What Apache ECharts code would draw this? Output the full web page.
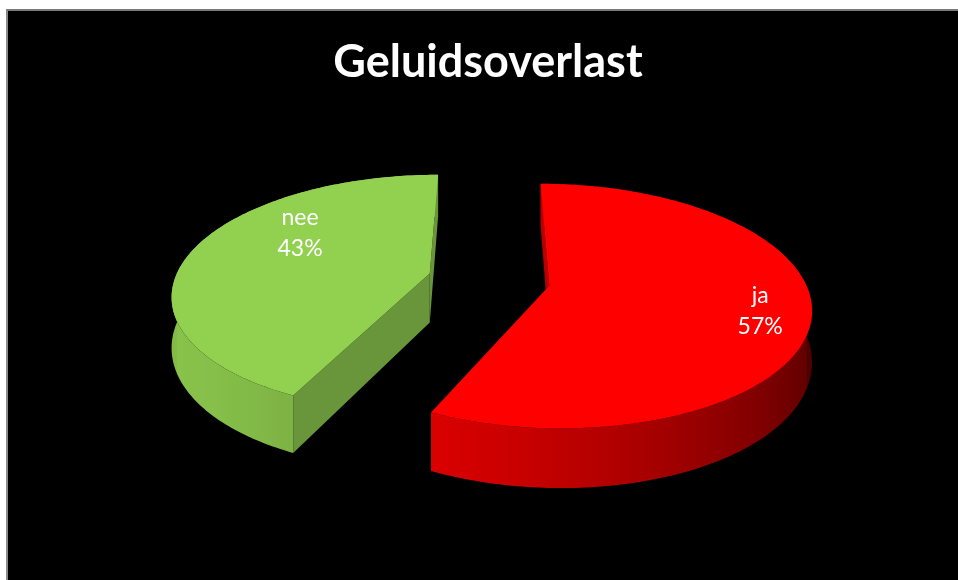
<!DOCTYPE html>
<html>
<head>
<meta charset="utf-8">
<script src="https://cdn.jsdelivr.net/npm/echarts@6/dist/echarts.min.js"></script>
<style>
  html, body { margin: 0; padding: 0; background: #ffffff; width: 958px; height: 580px; overflow: hidden; }
  #frame { position: absolute; left: 6px; top: 9px; width: 960px; height: 580px; border-top: 2px solid #7a7a7a; border-left: 2px solid #8a8a8a; background: #000; }
  #chart { width: 960px; height: 580px; }
</style>
</head>
<body>
<div id="frame"><div id="chart"></div></div>
<script>
const titleText = 'Geluidsoverlast';
const categories = ['ja', 'nee'];
const values = [57, 43];
const sliceColors = ['#ff0000', '#92d050'];

// 3D view parameters (rendering only)
const VIEW = { cx: 481, cy: 318, f: 1352, D: 5.3, sinT: 0.49, cosT: 0.872, H: 0.222, explode: 0.24 };
const LABEL_PLACE = [ { r: 0.81, dA: 2 }, { r: 0.67, dA: 21 } ];

function project(X, Y, Z) {
  const v = Y * VIEW.cosT - Z * VIEW.sinT;
  const d = VIEW.D - Z * VIEW.cosT;
  return [VIEW.cx + VIEW.f * X / d, VIEW.cy - VIEW.f * v / d];
}
function shade(hex, b) {
  const n = parseInt(hex.slice(1), 16);
  const r = Math.min(255, Math.round(((n >> 16) & 255) * b));
  const g = Math.min(255, Math.round(((n >> 8) & 255) * b));
  const bl = Math.min(255, Math.round((n & 255) * b));
  return 'rgb(' + r + ',' + g + ',' + bl + ')';
}
function light(theta) {
  const dot = -0.9 * Math.sin(theta) - 0.44 * Math.cos(theta);
  return 0.6 + 0.33 * dot;
}
function signedArea(pts) {
  let s = 0;
  for (let k = 0; k < pts.length; k++) {
    const a = pts[k], b = pts[(k + 1) % pts.length];
    s += a[0] * b[1] - b[0] * a[1];
  }
  return s / 2;
}
const total = values.reduce((a, b) => a + b, 0);

function renderItem(params, api) {
  const i = params.dataIndex;
  let a0 = 0;
  for (let j = 0; j < i; j++) a0 += values[j] / total * 2 * Math.PI;
  const a1 = a0 + api.value(0) / total * 2 * Math.PI;
  const mid = (a0 + a1) / 2;
  const ex = VIEW.explode * Math.sin(mid), ez = -VIEW.explode * Math.cos(mid);
  const H = VIEW.H;
  const col = sliceColors[i];
  const pt = (t, r, Y) => project(ex + r * Math.sin(t), Y, ez - r * Math.cos(t));
  const children = [];

  // outer wall: single polygon with horizontal gradient
  const n = Math.ceil((a1 - a0) / (Math.PI / 180));
  const topArc = [], botArc = [];
  for (let k = 0; k <= n; k++) {
    const t = a0 + (a1 - a0) * k / n;
    topArc.push(pt(t, 1, H));
    botArc.push(pt(t, 1, 0));
  }
  const wall = topArc.concat(botArc.slice().reverse());
  const fa = Math.max(a0, Math.PI / 2), fb = Math.min(a1, Math.PI * 1.5);
  const samples = [];
  const ns = 24;
  for (let k = 0; k <= ns; k++) {
    const t = fb - (fb - fa) * k / ns;
    samples.push({ x: pt(t, 1, H / 2)[0], c: shade(col, light(t)) });
  }
  const xmin = samples[0].x, xmax = samples[samples.length - 1].x;
  const stops = samples.map(s => ({ offset: Math.max(0, Math.min(1, (s.x - xmin) / (xmax - xmin))), color: s.c }));
  children.push({
    type: 'polygon', shape: { points: wall },
    style: { fill: { type: 'linear', x: xmin, y: 0, x2: xmax, y2: 0, global: true, colorStops: stops } }
  });
  // radial walls (front-facing only)
  [a0, a1].forEach((t, idx) => {
    const q = idx === 0
      ? [pt(t, 0, H), pt(t, 1, H), pt(t, 1, 0), pt(t, 0, 0)]
      : [pt(t, 1, H), pt(t, 0, H), pt(t, 0, 0), pt(t, 1, 0)];
    if (signedArea(q) < 0) {
      children.push({ type: 'polygon', shape: { points: q }, style: { fill: shade(col, 0.72) } });
    }
  });
  // top face
  const top = [pt(0, 0, H)].concat(topArc);
  children.push({ type: 'polygon', shape: { points: top }, style: { fill: col } });
  // label
  const lp = LABEL_PLACE[i];
  const lpos = pt(mid + lp.dA * Math.PI / 180, lp.r, H);
  const pct = Math.round(api.value(0) / total * 100);
  children.push({
    type: 'text', x: lpos[0], y: lpos[1],
    style: {
      text: categories[i] + '\n' + pct + '%', fill: '#ffffff',
      font: '23px Lato', align: 'center', verticalAlign: 'middle', lineHeight: 31
    }
  });
  return { type: 'group', children: children };
}

const chart = echarts.init(document.getElementById('chart'), null, { renderer: 'canvas' });
chart.setOption({
  backgroundColor: '#000000',
  animation: false,
  title: {
    text: titleText, left: 'center', top: 24,
    textStyle: { color: '#ffffff', fontSize: 45, fontWeight: 'bold', fontFamily: 'Lato' }
  },
  series: [{
    type: 'custom',
    coordinateSystem: 'none',
    renderItem: renderItem,
    data: categories.map((c, i) => ({ name: c, value: [values[i]] }))
  }]
});
</script>
</body>
</html>
